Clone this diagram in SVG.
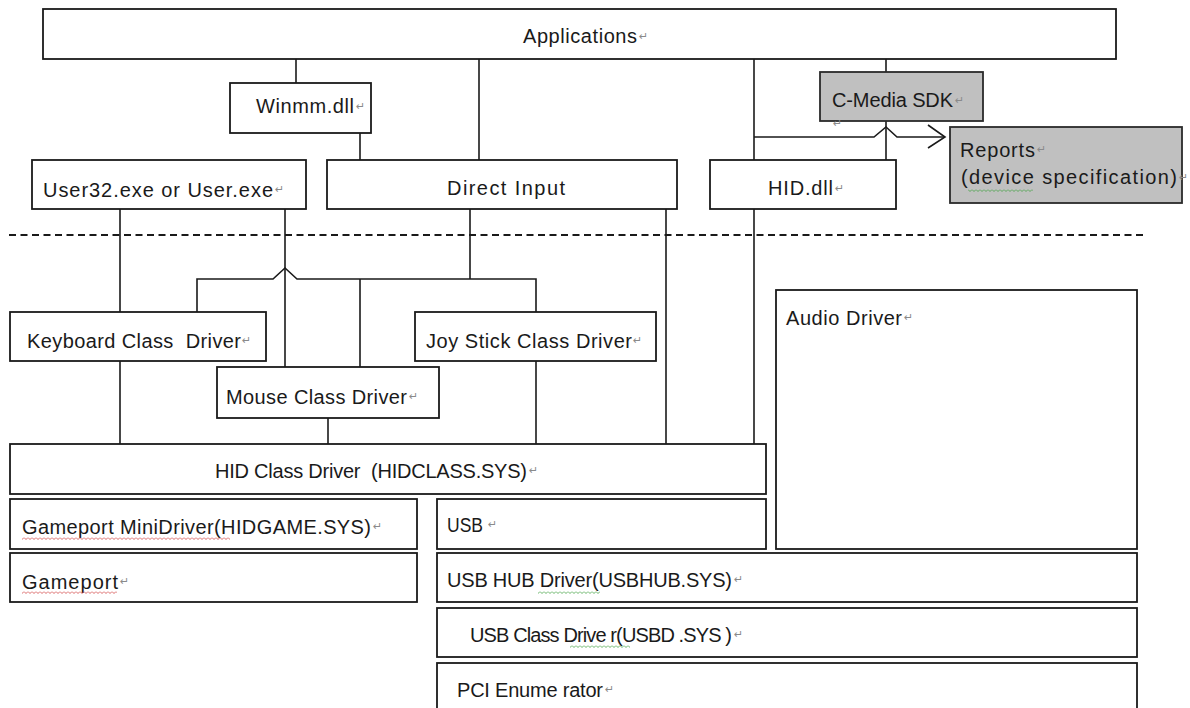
<svg xmlns="http://www.w3.org/2000/svg" width="1190" height="708" viewBox="0 0 1190 708">
<defs>
<style>
.box{fill:#ffffff;stroke:#1a1a1a;stroke-width:1.8}
.gray{fill:#c0c0c0;stroke:#2a2a2a;stroke-width:1.8}
.t{font-family:"Liberation Sans","DejaVu Sans",sans-serif;font-size:20px;fill:#1a1a1a;white-space:pre}
.rm{font-family:"DejaVu Sans",sans-serif;font-size:11px;fill:#8a8a8a}
.ln{fill:none;stroke:#1a1a1a;stroke-width:1.6}
.dash{fill:none;stroke:#1a1a1a;stroke-width:2;stroke-dasharray:7 4.5}
</style>
<pattern id="wavyR" width="4" height="3" patternUnits="userSpaceOnUse"><path d="M0,0.5 L2,2.5 L4,0.5" fill="none" stroke="#d04040" stroke-width="0.8"/></pattern>
<pattern id="wavyG" width="4" height="3" patternUnits="userSpaceOnUse"><path d="M0,0.5 L2,2.5 L4,0.5" fill="none" stroke="#40a040" stroke-width="0.8"/></pattern>
</defs>
<rect width="1190" height="708" fill="#ffffff"/>

<g id="connectors">
<line class="dash" x1="9" y1="235" x2="1145" y2="235"/>
<line class="ln" x1="296" y1="59" x2="296" y2="83"/>
<line class="ln" x1="360" y1="133" x2="360" y2="160"/>
<line class="ln" x1="479" y1="59" x2="479" y2="160"/>
<line class="ln" x1="754" y1="59" x2="754" y2="160"/>
<line class="ln" x1="754" y1="209" x2="754" y2="444"/>
<line class="ln" x1="886" y1="59" x2="886" y2="72"/>
<line class="ln" x1="886" y1="121" x2="886" y2="160"/>
<path class="ln" d="M754,137 L874,137 L886,127 L897,137 L945,137"/>
<path class="ln" d="M928,125 L945,137 L928,148" stroke="#444"/>
<line class="ln" x1="120" y1="209" x2="120" y2="312"/>
<line class="ln" x1="285" y1="209" x2="285" y2="367"/>
<line class="ln" x1="470" y1="209" x2="470" y2="279"/>
<path class="ln" d="M197,312 L197,279 L273,279 L285,268 L297,279 L536,279 L536,312"/>
<line class="ln" x1="360" y1="279" x2="360" y2="367"/>
<line class="ln" x1="666" y1="209" x2="666" y2="444"/>
<line class="ln" x1="120" y1="361" x2="120" y2="444"/>
<line class="ln" x1="328" y1="418" x2="328" y2="444"/>
<line class="ln" x1="536" y1="361" x2="536" y2="444"/>
</g>

<g id="applications">
<rect class="box" x="43" y="9" width="1073" height="50"/>
<text class="t" x="523" y="43" textLength="114" lengthAdjust="spacing">Applications</text>
<text class="rm" x="639" y="40">↵</text>
</g>
<g id="winmm">
<rect class="box" x="230" y="83" width="141" height="50"/>
<text class="t" x="256" y="113" textLength="98" lengthAdjust="spacing">Winmm.dll</text>
<text class="rm" x="356" y="110">↵</text>
</g>
<g id="user32">
<rect class="box" x="32" y="160" width="274" height="49"/>
<text class="t" x="43" y="197" textLength="230" lengthAdjust="spacing">User32.exe or User.exe</text>
<text class="rm" x="275" y="193">↵</text>
</g>
<g id="directinput">
<rect class="box" x="327" y="160" width="350" height="49"/>
<text class="t" x="447" y="195" textLength="118" lengthAdjust="spacing">Direct Input</text>
</g>
<g id="hiddll">
<rect class="box" x="710" y="160" width="186" height="49"/>
<text class="t" x="768" y="195" textLength="65" lengthAdjust="spacing">HID.dll</text>
<text class="rm" x="835" y="192">↵</text>
</g>
<g id="cmedia">
<rect class="gray" x="820" y="72" width="163" height="49"/>
<text class="t" x="832" y="107" textLength="121" lengthAdjust="spacing">C-Media SDK</text>
<text class="rm" x="955" y="104">↵</text>
<text class="rm" x="833" y="127">↵</text>
</g>
<g id="reports">
<rect class="gray" x="950" y="127" width="232" height="76"/>
<text class="t" x="960" y="157" textLength="75" lengthAdjust="spacing">Reports</text>
<text class="rm" x="1037" y="153">↵</text>
<text class="t" x="961" y="184" textLength="216" lengthAdjust="spacing">(device specification)</text>
<text class="rm" x="1179" y="181">↵</text>
<rect x="968" y="189" width="65" height="3" fill="url(#wavyG)"/>
</g>
<g id="keyboard">
<rect class="box" x="10" y="312" width="256" height="49"/>
<text class="t" x="27" y="348" textLength="214" lengthAdjust="spacing">Keyboard Class  Driver</text>
<text class="rm" x="242" y="344">↵</text>
</g>
<g id="joystick">
<rect class="box" x="415" y="312" width="241" height="49"/>
<text class="t" x="426" y="348" textLength="206" lengthAdjust="spacing">Joy Stick Class Driver</text>
<text class="rm" x="633" y="344">↵</text>
</g>
<g id="mouse">
<rect class="box" x="217" y="367" width="222" height="51"/>
<text class="t" x="226" y="404" textLength="181" lengthAdjust="spacing">Mouse Class Driver</text>
<text class="rm" x="409" y="400">↵</text>
</g>
<g id="audio">
<rect class="box" x="776" y="290" width="361" height="259"/>
<text class="t" x="786" y="325" textLength="116" lengthAdjust="spacing">Audio Driver</text>
<text class="rm" x="904" y="321">↵</text>
</g>
<g id="hidclass">
<rect class="box" x="10" y="444" width="756" height="50"/>
<text class="t" x="215" y="478" textLength="312" lengthAdjust="spacing">HID Class Driver  (HIDCLASS.SYS)</text>
<text class="rm" x="529" y="474">↵</text>
</g>
<g id="gameportmini">
<rect class="box" x="10" y="499" width="407" height="50"/>
<text class="t" x="22" y="534" textLength="349" lengthAdjust="spacing">Gameport MiniDriver(HIDGAME.SYS)</text>
<text class="rm" x="373" y="530">↵</text>
<rect x="22" y="537" width="208" height="3" fill="url(#wavyR)"/>
</g>
<g id="gameport">
<rect class="box" x="10" y="553" width="407" height="49"/>
<text class="t" x="22" y="589" textLength="96" lengthAdjust="spacing">Gameport</text>
<text class="rm" x="120" y="585">↵</text>
<rect x="22" y="591" width="95" height="3" fill="url(#wavyR)"/>
</g>
<g id="usb">
<rect class="box" x="437" y="499" width="329" height="50"/>
<text class="t" x="447" y="532" textLength="36" lengthAdjust="spacingAndGlyphs">USB</text>
<text class="rm" x="488" y="528">↵</text>
</g>
<g id="usbhub">
<rect class="box" x="437" y="553" width="700" height="49"/>
<text class="t" x="447" y="587" textLength="285" lengthAdjust="spacing">USB HUB Driver(USBHUB.SYS)</text>
<text class="rm" x="734" y="583">↵</text>
<rect x="538" y="591" width="62" height="3" fill="url(#wavyG)"/>
</g>
<g id="usbclass">
<rect class="box" x="437" y="608" width="700" height="49"/>
<text class="t" x="470" y="642" textLength="262" lengthAdjust="spacing">USB Class Drive r(USBD .SYS )</text>
<text class="rm" x="734" y="638">↵</text>
<rect x="570" y="645" width="60" height="3" fill="url(#wavyG)"/>
</g>
<g id="pci">
<rect class="box" x="437" y="663" width="700" height="60"/>
<text class="t" x="457" y="697" textLength="146" lengthAdjust="spacing">PCI Enume rator</text>
<text class="rm" x="605" y="693">↵</text>
</g>
</svg>
